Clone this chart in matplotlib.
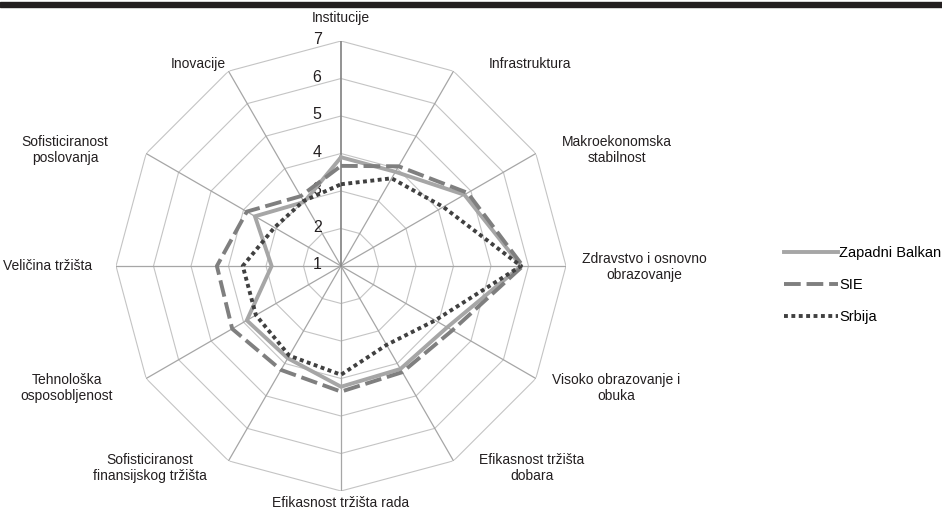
import numpy as np
import matplotlib
matplotlib.use("Agg")
import matplotlib.pyplot as plt
from matplotlib.patches import Rectangle

plt.rcParams["font.family"] = ["Liberation Sans Narrow", "Liberation Sans", "DejaVu Sans"]

categories = [
    "Institucije",
    "Infrastruktura",
    "Makroekonomska\nstabilnost",
    "Zdravstvo i osnovno\nobrazovanje",
    "Visoko obrazovanje i\nobuka",
    "Efikasnost tržišta\ndobara",
    "Efikasnost tržišta rada",
    "Sofisticiranost\nfinansijskog tržišta",
    "Tehnološka\nosposobljenost",
    "Veličina tržišta",
    "Sofisticiranost\nposlovanja",
    "Inovacije",
]
zapadni_balkan = [3.9, 3.9, 4.8, 5.8, 4.27, 4.17, 4.22, 3.84, 3.9, 2.85, 3.65, 2.97]
sie = [3.67, 4.07, 4.9, 5.85, 4.43, 4.27, 4.35, 4.2, 4.35, 4.31, 3.9, 3.15]
srbija = [3.18, 3.7, 4.15, 5.8, 3.9, 3.43, 3.9, 3.76, 3.62, 3.62, 3.05, 3.0]
ticks = [1, 2, 3, 4, 5, 6, 7]

# label centres in pixels (x, y from top)
label_pos = [
    (341, 18), (530, 64), (617, 150), (644, 267), (616, 388), (532, 468),
    (341, 503), (150, 468), (67, 388), (48, 266), (65, 150), (198, 64),
]

W, H = 942, 514
fig = plt.figure(figsize=(W / 100, H / 100), dpi=100)
fig.patches.append(Rectangle((0, 1 - 7 / H), 1, 5 / H, transform=fig.transFigure,
                             color="#231f20", zorder=0))

cx, cy, rad = 341, 266, 225
ax = fig.add_axes([(cx - rad) / W, 1 - (cy + rad) / H, 2 * rad / W, 2 * rad / H],
                  projection="polar")
ax.set_theta_zero_location("N")
ax.set_theta_direction(-1)
ax.set_ylim(1, 7)
ax.grid(False)
ax.set_xticks([])
ax.set_yticks([])
ax.spines["polar"].set_visible(False)
ax.patch.set_visible(False)

n = len(categories)
theta = np.linspace(0, 2 * np.pi, n, endpoint=False)
theta_c = np.append(theta, theta[0])

# polygon rings
for v in ticks[1:]:
    ax.plot(theta_c, [v] * (n + 1), color="#c4c4c4", lw=0.8, zorder=1)
# spokes
for i, t in enumerate(theta):
    if i == 0:
        ax.plot([t, t], [1, 7], color="#8a8a8a", lw=1.3, zorder=2)
    else:
        ax.plot([t, t], [1, 7], color="#a6a6a6", lw=0.9, zorder=1)

for v in ticks:
    ax.annotate(str(v), xy=(0, v), xytext=(-14, 1), textcoords="offset points",
                ha="right", va="center", fontsize=11.5, color="#231f20")

def close(vals):
    return vals + vals[:1]

ax.plot(theta_c, close(zapadni_balkan), color="#a6a6a6", lw=2.8,
        solid_joinstyle="miter", label="Zapadni Balkan", zorder=3)
ax.plot(theta_c, close(sie), color="#7f7f7f", lw=2.8, dashes=(4.3, 1.5),
        dash_capstyle="butt", label="SIE", zorder=4)
ax.plot(theta_c, close(srbija), color="#404040", lw=2.8, dashes=(1.0, 0.9),
        dash_capstyle="butt", label="Srbija", zorder=5)

for name, (x, y) in zip(categories, label_pos):
    fig.text(x / W, 1 - y / H, name, ha="center", va="center", fontsize=10,
             color="#231f20", linespacing=1.2)

fig.legend(loc="upper left", bbox_to_anchor=(784 / W, 1 - 246 / H), frameon=False,
           fontsize=10.5, handlelength=3.7, handletextpad=0.1, labelspacing=1.25,
           borderpad=0, borderaxespad=0)

fig.savefig("out.png", dpi=100)
